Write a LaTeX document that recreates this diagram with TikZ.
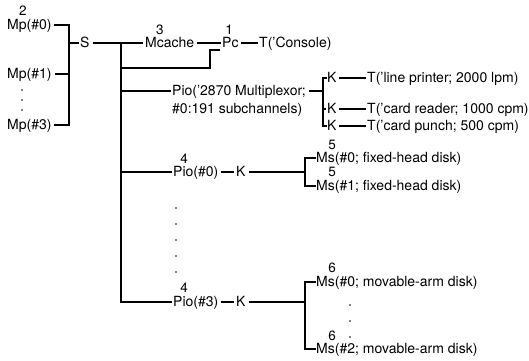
\documentclass[tikz,border=0pt]{standalone}
\usepackage{fontspec}
\setmainfont{TeX Gyre Heros}
\tikzset{
  lbl/.style={anchor=west, inner sep=0pt, text height=9.9pt, text depth=0pt, font=\fontsize{14}{16}\selectfont},
  num/.style={inner sep=0pt, font=\fontsize{13.5}{15}\selectfont},
  wire/.style={line width=1.5pt},
  brk/.style={line width=2.2pt, line cap=rect},
  vdot/.style={fill=black}
}
\begin{document}
\begin{tikzpicture}[x=1pt,y=-1pt]
\useasboundingbox (0,0) rectangle (529,360);
% left memories
\node[lbl] (mp0) at (7,25) {Mp(\#0)};
\node[num] (n2) at (23,11) {2};
\node[lbl] (mp1) at (7,74) {Mp(\#1)};
\node[lbl] (mp3) at (7,125) {Mp(\#3)};
\foreach \yy in {90,100,110} \fill[vdot] (22,\yy) circle (0.8);
\coordinate (bL) at (69,43);
\node[lbl] (S) at (80,43) {S};
\draw[brk] ([xshift=3pt]mp0.east) -- (mp0.east -| bL) -- (mp3.east -| bL) -- ([xshift=3pt]mp3.east);
\draw[wire] ([xshift=3pt]mp1.east) -- (mp1.east -| bL);
\draw[wire] (bL) -- ([xshift=-1pt]S.west);
% switch, cache, processor
\coordinate (tr) at (121,43);
\node[lbl] (mc) at (145,43) {Mcache};
\node[num] (n3) at (160,30) {3};
\node[lbl] (pc) at (222,43) {Pc};
\node[num] (n1) at (229,30) {1};
\node[lbl] (con) at (259,43) {T('Console)};
\draw[wire] ([xshift=3pt]S.east) -- ([xshift=-2pt]mc.west);
\draw[wire] ([xshift=3pt]mc.east) -- ([xshift=-1pt]pc.west);
\draw[wire] ([xshift=2pt]pc.east) -- ([xshift=-1pt]con.west);
\coordinate (pcIn) at (220,50);
\draw[wire] (tr |- 0,68) -| (210,50) -- (pcIn);
% trunk
\node[lbl] (p3) at (173,302) {Pio(\#3)};
\draw[brk] (tr) -- (tr |- p3.west);
% multiplexor
\node[lbl] (pm) at (172,91) {Pio('2870 Multiplexor;};
\node[lbl] (pm2) at (172,109) {\#0:191 subchannels)};
\draw[wire] (tr |- pm.west) -- ([xshift=-1pt]pm.west);
\coordinate (bM) at (323,91);
\draw[wire] ([xshift=3pt]pm.east) -- (bM);
\node[lbl] (k1) at (327,78) {K};
\node[lbl] (k2) at (327,109) {K};
\node[lbl] (k3) at (327,126) {K};
\node[lbl] (t1) at (367,78) {T('line printer; 2000 lpm)};
\node[lbl] (t2) at (367,109) {T('card reader; 1000 cpm)};
\node[lbl] (t3) at (367,126) {T('card punch; 500 cpm)};
\draw[brk] ([xshift=-1pt]k1.west) -- (k1.west -| bM) -- (k3.west -| bM) -- ([xshift=-1pt]k3.west);
\draw[wire] (k2.west -| bM) -- ([xshift=-1pt]k2.west);
\draw[wire] ([xshift=2pt]k1.east) -- ([xshift=-1pt]t1.west);
\draw[wire] ([xshift=2pt]k2.east) -- ([xshift=-1pt]t2.west);
\draw[wire] ([xshift=2pt]k3.east) -- ([xshift=-1pt]t3.west);
% Pio #0
\node[lbl] (p0) at (173,172) {Pio(\#0)};
\node[num] (n4a) at (184,159) {4};
\node[lbl] (kp0) at (236,172) {K};
\draw[wire] (tr |- p0.west) -- ([xshift=-1pt]p0.west);
\draw[wire] ([xshift=2pt]p0.east) -- ([xshift=-2pt]kp0.west);
\coordinate (b0) at (305,172);
\draw[wire] ([xshift=3pt]kp0.east) -- (b0);
\node[lbl] (ms0) at (316,158) {Ms(\#0; fixed-head disk)};
\node[num] (n5a) at (332,145) {5};
\node[lbl] (ms1) at (316,186) {Ms(\#1; fixed-head disk)};
\node[num] (n5b) at (332,172) {5};
\draw[brk] ([xshift=-1pt]ms0.west) -- (ms0.west -| b0) -- (ms1.west -| b0) -- ([xshift=-1pt]ms1.west);
\foreach \yy in {208,224,240,256,272} \fill[vdot] (176,\yy) circle (0.8);
% Pio #3
\node[num] (n4b) at (184,288) {4};
\node[lbl] (kp3) at (236,302) {K};
\draw[wire] (tr |- p3.west) -- ([xshift=-1pt]p3.west);
\draw[wire] ([xshift=2pt]p3.east) -- ([xshift=-2pt]kp3.west);
\coordinate (b3) at (305,302);
\draw[wire] ([xshift=3pt]kp3.east) -- (b3);
\node[lbl] (ms3a) at (316,282) {Ms(\#0; movable-arm disk)};
\node[num] (n6a) at (332,268) {6};
\node[lbl] (ms3c) at (316,349) {Ms(\#2; movable-arm disk)};
\node[num] (n6b) at (332,336) {6};
\draw[brk] ([xshift=-1pt]ms3a.west) -- (ms3a.west -| b3) -- (ms3c.west -| b3) -- ([xshift=-1pt]ms3c.west);
\foreach \yy in {305,321,337} \fill[vdot] (350,\yy) circle (0.8);
\end{tikzpicture}
\end{document}
